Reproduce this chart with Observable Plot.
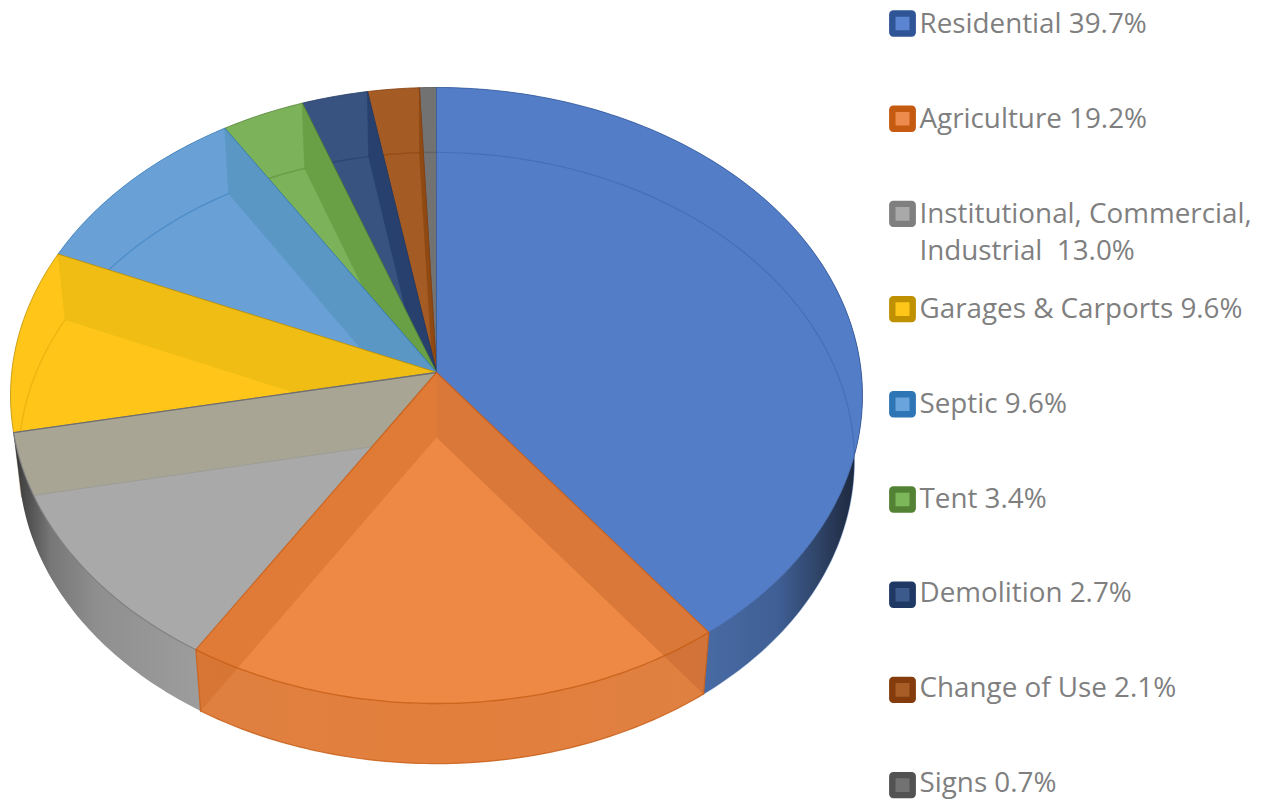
<!DOCTYPE html>
<html>
<head>
<meta charset="utf-8">
<script src="https://cdn.jsdelivr.net/npm/d3@7"></script>
<script src="https://cdn.jsdelivr.net/npm/@observablehq/plot@0.6"></script>
<style>
html,body{margin:0;padding:0;background:#fff;overflow:hidden}
svg{display:block}
</style>
</head>
<body>
<div id="chart"></div>
<script>
const categories = ["Residential","Agriculture","Institutional, Commercial,\nIndustrial  13.0%","Garages & Carports","Septic","Tent","Demolition","Change of Use","Signs"];
const shares = [39.7,19.2,13.0,9.6,9.6,3.4,2.7,2.1,0.7];
const percentLabels = ["39.7%","19.2%","","9.6%","9.6%","3.4%","2.7%","2.1%","0.7%"];
const faceColors = ["#547dc8","#ed8944","#a9a9a9","#ffc619","#69a1d7","#7cb259","#395381","#a55b24","#727272"];
const wallColors = ["#547dc8","#db7a3b","#a9a594","#efbd14","#5b97c5","#69a046","#27406d","#8f4a13","#606060"];
const edgeColors = ["#2f5597","#c55a11","#7f7f7f","#bf9000","#2e75b6","#548235","#203864","#843c0c","#525252"];
const swatchFill = ["#5b85d0","#ed8b4d","#a9a9a9","#ffc61a","#69a5dc","#7cb85a","#3d5a8c","#a85c26","#727272"];

// cumulative position of every slice boundary, in percent of the pie
const cum = d3.cumsum(shares);
const total = cum[cum.length - 1];
const startOf = i => i === 0 ? 0 : cum[i - 1];
const endOf = i => i === cum.length - 1 ? total : cum[i];

// perspective view of the pie: upper rim and lower rim are two projected circles
const cx = 436;
const upper = {cy: 372, ax: 424.8, by: 306.3, px: .0747, py: .0747};
const lower = {cy: 437, ax: 416.7, by: 304.2, px: .0746, py: .0672};
const project = (pct, v) => {
  const t = pct / total * 2 * Math.PI, X = Math.sin(t), Y = -Math.cos(t);
  return [cx + v.ax * X / (1 - v.px * Y), v.cy + v.by * Y / (1 - v.py * Y)];
};
const arc = (a, b, v) => {
  const n = Math.max(2, Math.ceil((b - a) / .25));
  return d3.range(n + 1).map(k => project(a + (b - a) * k / n, v));
};
const apexU = [cx, upper.cy], apexL = [cx, lower.cy];

const poly = (pts, o) => Plot.line(pts, {x: d => d[0], y: d => d[1], curve: "linear-closed", strokeLinejoin: "round", ...o});
const path = (pts, o) => Plot.line(pts, {x: d => d[0], y: d => d[1], fill: "none", ...o});

const face = i => [apexU, ...arc(startOf(i), endOf(i), upper)];
const wall = pct => [apexU, project(pct, upper), project(pct, lower), apexL];
const rim = i => [...arc(startOf(i), endOf(i), upper), ...arc(startOf(i), endOf(i), lower).reverse()];
const lowerArc = i => arc(startOf(i), endOf(i), lower);

const marks = [];
marks.push(() => {
  const defs = d3.create("svg:defs");
  const grad = (id, stops) => {
    const g = defs.append("linearGradient").attr("id", id).attr("x1", 0).attr("x2", 1).attr("y1", 0).attr("y2", 0);
    stops.forEach(([o, c]) => g.append("stop").attr("offset", o).attr("stop-color", c));
  };
  grad("rimBlue", [[0, "#4d70b0"], [.6, "#4a6ca6"], [.8, "#3f5f95"], [.88, "#32496f"], [.96, "#222f48"], [1, "#1a2538"]]);
  grad("rimGrey", [[0, "#333333"], [.06, "#4a4a4a"], [.2, "#777777"], [.45, "#8f8f8f"], [1, "#9d9d9d"]]);
  grad("rimOrange", [[0, "#df8040"], [.5, "#e37f3d"], [1, "#df8041"]]);
  return defs.node();
});

// back slices, furthest round the pie first
for (const i of [8, 7, 6, 5, 4, 3]) {
  marks.push(poly(face(i), {fill: faceColors[i]}));
  if (i !== 8) marks.push(poly(wall(endOf(i)), {fill: wallColors[i], stroke: wallColors[i], strokeWidth: .5}));
  marks.push(path(lowerArc(i), {stroke: edgeColors[i], strokeWidth: 1.4, strokeOpacity: i === 3 ? .3 : .45}));
  marks.push(poly(face(i), {fill: "none", stroke: edgeColors[i], strokeWidth: 1, strokeOpacity: .8}));
}
// grey slice: face, wall band, then the outer rim on top
marks.push(poly(face(2), {fill: faceColors[2]}));
marks.push(poly(wall(endOf(2)), {fill: wallColors[2], stroke: "#9a9a96", strokeWidth: .8}));
marks.push(poly(rim(2), {fill: "url(#rimGrey)"}));
marks.push(path(arc(startOf(2), endOf(2), upper), {stroke: "#7f7f7f", strokeWidth: 1.2}));
marks.push(path([apexU, project(endOf(2), upper)], {stroke: "#6f6f6f", strokeWidth: 1.3}));
// residential
marks.push(poly(rim(0), {fill: "url(#rimBlue)"}));
marks.push(poly(face(0), {fill: faceColors[0]}));
marks.push(path(lowerArc(0), {stroke: edgeColors[0], strokeWidth: 1.2, strokeOpacity: .35}));
marks.push(poly(face(0), {fill: "none", stroke: edgeColors[0], strokeWidth: 1, strokeOpacity: .7}));
// agriculture, with both radial walls seen through the glass
marks.push(poly(rim(1), {fill: "url(#rimOrange)"}));
marks.push(poly(face(1), {fill: faceColors[1]}));
marks.push(poly(wall(startOf(1)), {fill: "#be5f2d", fillOpacity: .4}));
marks.push(poly(wall(endOf(1)), {fill: "#cb6420", fillOpacity: .36}));
marks.push(path(arc(startOf(1), endOf(1), upper), {stroke: edgeColors[1], strokeWidth: 1.3, strokeOpacity: .85}));
marks.push(path(lowerArc(1), {stroke: edgeColors[1], strokeWidth: 1.2, strokeOpacity: .8}));
marks.push(path([project(startOf(1), lower), project(startOf(1), upper), apexU, project(endOf(1), upper), project(endOf(1), lower)], {stroke: edgeColors[1], strokeWidth: 1.2, strokeOpacity: .8, strokeLinejoin: "round"}));

// legend
const legendTop = 23.5, legendStep = 95.2, textTop = 23.2, textStep = 94.9;
const rows = categories.map((c, i) => ({
  i, y: legendTop + i * legendStep, ty: textTop + i * textStep,
  label: percentLabels[i] ? `${c} ${percentLabels[i]}` : c
}));
marks.push(Plot.rect(rows, {
  x1: () => 892.3, x2: () => 912.7,
  y1: d => d.y - 10, y2: d => d.y + 10,
  fill: d => swatchFill[d.i], stroke: d => edgeColors[d.i], strokeWidth: 6.4, rx: 1
}));
marks.push(Plot.text(rows, {
  x: () => 919, y: d => d.ty - 16.7, text: "label",
  textAnchor: "start", lineAnchor: "top", lineHeight: 1.32,
  fontFamily: "Open Sans", fontSize: 27.8, fill: "#7f7f7f"
}));

const chart = Plot.plot({
  width: 1266, height: 801,
  margin: 0,
  x: {domain: [0, 1266], range: [0, 1266], axis: null},
  y: {domain: [0, 801], range: [0, 801], axis: null},
  color: {type: "identity"},
  style: {background: "#fff"},
  marks
});
document.getElementById("chart").append(chart);
</script>
</body>
</html>
